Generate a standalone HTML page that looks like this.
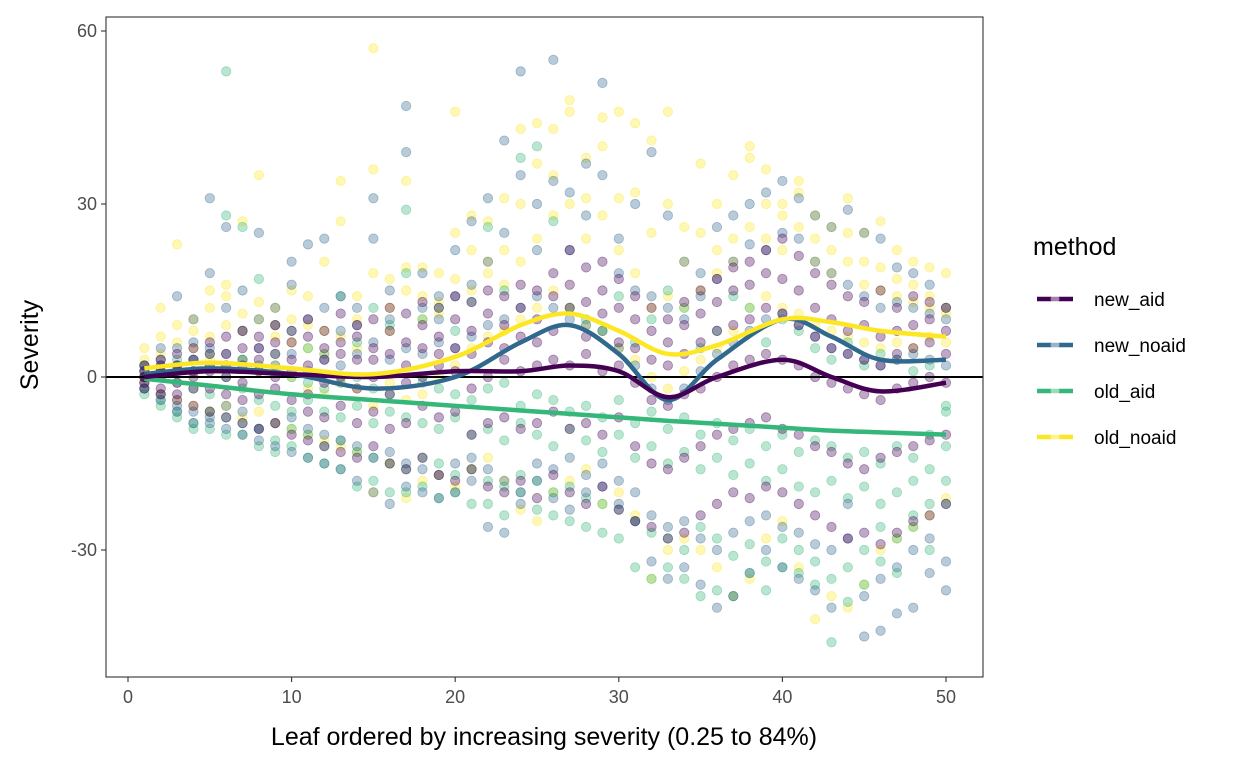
<!DOCTYPE html>
<html><head><meta charset="utf-8"><style>
html,body{margin:0;padding:0;background:#fff;}
svg{display:block;font-family:"Liberation Sans",sans-serif;}
</style></head><body>
<svg id="chart" width="1248" height="768"></svg>
<script>
const seriesNames=["new_aid","new_noaid","old_aid","old_noaid"];
const seriesColors=["#440154","#31688E","#35B779","#FDE725"];
const xTicks=[0,10,20,30,40,50];
const yTicks=[-30,0,30,60];
const newAidPts=[[0,1,-1,2,-2,0],[1,-2,3,-3,0,2],[2,-4,4,-1,1,-3],[3,-5,5,0,-2,1],[4,-6,6,-2,1,2],[2,-7,7,0,4,-3],[5,-8,8,-1,2,-4],[3,-9,7,1,-3,5],[4,-8,9,-2,0,6],[6,-10,8,1,-4,3],[7,-11,10,-3,2,-6],[8,-12,5,-1,3,-7],[6,-13,11,0,-5,4],[9,-14,7,-2,3,-8],[10,-12,5,0,-6,3],[8,-15,12,-3,4,-9],[11,-16,6,-1,2,-8],[9,-14,13,0,-5,5],[12,-17,7,2,-7,4],[10,-18,14,1,-6,5],[13,-16,8,-2,4,-10],[11,-19,15,0,-8,6],[14,-20,9,3,-7,5],[12,-18,16,1,-9,7],[15,-21,10,2,-8,6],[14,-17,18,3,-6,8],[16,-20,12,2,-9,22],[13,-22,19,4,-8,7],[15,-19,11,1,-10,20],[12,-23,17,2,-7,6],[10,-25,14,-1,-12,5],[8,-26,12,-4,-15,3],[6,-28,10,-5,-16,2],[9,-27,13,-3,-14,4],[11,-24,15,-2,-12,6],[13,-22,17,0,-10,8],[15,-20,19,2,-9,9],[16,-21,20,3,-8,10],[18,-19,22,4,-7,12],[17,-20,24,3,-9,11],[15,-22,21,2,-10,9],[12,-24,18,0,-12,7],[10,-26,16,-1,-13,5],[8,-28,14,-2,-15,4],[9,-27,13,-3,-16,3],[7,-29,15,-4,-14,2],[8,-27,12,-2,-13,4],[9,-25,14,-1,-12,5],[10,-24,13,0,-11,6],[8,-22,12,-1,-10,4]];
const newNoaidPts=[[1,-1,2,0,-2],[3,-3,5,-4,1],[5,-5,14,-6,2],[6,-6,10,-8,3],[31,-8,18,-7,5],[26,-9,12,-5,4],[8,-10,15,-6,3],[25,-11,10,-9,5],[12,-12,9,-8,2],[20,-13,16,-7,4],[23,-14,10,-9,1],[24,-15,12,-10,3],[14,-16,8,-11,2],[12,-18,9,-12,4],[31,-20,24,-14,6],[15,-22,10,-13,3],[47,-19,39,-15,5],[18,-20,12,-16,4],[14,-21,10,-17,6],[22,-20,14,-15,5],[27,-18,16,-14,7],[31,-26,20,-16,9],[41,-27,25,-18,10],[53,-22,35,-20,12],[30,-18,22,-15,14],[55,-21,34,-16,12],[32,-23,22,-14,10],[37,-20,28,-17,9],[51,-19,35,-15,8],[24,-22,18,-18,5],[30,-25,15,-20,2],[39,-32,14,-24,-2],[28,-35,12,-26,-4],[20,-33,10,-25,-2],[18,-36,14,-28,1],[26,-40,17,-30,4],[28,-38,20,-27,6],[30,-34,23,-25,8],[32,-30,22,-24,10],[34,-33,25,-26,11],[31,-35,24,-27,9],[28,-37,20,-29,7],[26,-40,18,-30,5],[29,-28,16,-22,4],[25,-45,14,-38,3],[24,-44,12,-35,2],[19,-41,13,-33,3],[18,-40,12,-30,4],[16,-34,11,-28,3],[12,-37,10,-32,2]];
const oldAidPts=[[0,-2,1,-3,2],[1,-4,2,-5,0],[2,-6,3,-7,-1],[3,-8,1,-9,-2],[2,-9,4,-6,-3],[53,-10,28,-7,0],[26,-10,3,-8,-2],[17,-12,2,-9,-4],[4,-13,1,-11,-5],[8,-12,0,-9,-6],[5,-14,-1,-10,-4],[4,-15,-2,-12,-6],[14,-16,-1,-11,-7],[6,-19,0,-13,-5],[12,-18,-2,-14,-8],[9,-20,-3,-15,-6],[29,-20,18,-16,-7],[10,-19,-1,-14,-8],[12,-21,-2,-15,-9],[8,-20,-3,-17,-7],[13,-22,-4,-16,-10],[26,-22,-2,-18,-9],[15,-24,-1,-19,-11],[38,-20,-5,-17,-8],[40,-23,-3,-18,-10],[27,-24,-4,-20,-12],[12,-25,-6,-19,-9],[10,-26,-5,-21,-11],[8,-27,-7,-22,-13],[14,-28,-4,-23,-10],[6,-33,-8,-25,-14],[10,-35,-6,-27,-12],[15,-33,-9,-28,-15],[12,-35,-7,-30,-13],[5,-38,-10,-26,-16],[8,-37,-8,-28,-14],[14,-38,-11,-31,-17],[12,-34,-9,-29,-15],[6,-37,-12,-32,-18],[10,-33,-10,-28,-16],[8,-34,-13,-30,-19],[5,-36,-11,-32,-20],[3,-46,-12,-35,-18],[6,-39,-14,-33,-21],[2,-36,-13,-30,-19],[4,-32,-15,-26,-22],[3,-34,-12,-28,-20],[1,-24,-14,-26,-18],[2,-30,-16,-22,-10],[-5,-22,-12,-18,-6]];
const oldNoaidPts=[[5,2,-1,3,0],[12,4,-3,7,1],[23,6,-4,9,2],[10,5,-5,8,1],[15,7,-6,12,3],[16,9,-5,14,2],[27,8,-7,11,3],[35,10,-6,13,1],[12,7,-8,9,2],[15,6,-9,10,0],[14,5,-10,9,-2],[20,4,-11,8,-3],[34,7,-12,27,-1],[14,5,-13,10,-2],[57,36,-20,18,-5],[17,8,-15,12,-1],[34,15,-21,19,-4],[19,10,-18,14,-3],[18,11,-17,13,0],[46,25,-19,17,2],[22,15,-16,28,5],[27,18,-14,20,7],[31,22,-18,16,8],[43,30,-23,20,10],[44,37,-25,24,12],[43,35,-20,28,15],[48,46,-18,30,12],[38,31,-16,24,9],[45,40,-22,28,8],[46,31,-20,22,5],[44,32,-24,18,3],[41,25,-35,12,0],[46,30,-30,14,-2],[26,20,-28,12,1],[37,25,-30,15,3],[30,22,-33,18,5],[35,24,-38,20,8],[40,38,-35,26,12],[36,30,-28,24,14],[30,28,-25,22,12],[34,32,-33,26,11],[28,24,-42,20,9],[26,22,-38,18,8],[31,25,-40,20,7],[25,20,-36,16,6],[27,19,-30,15,5],[22,17,-28,14,6],[20,16,-26,13,5],[19,14,-24,12,7],[18,12,-21,11,6]];
const smoothX=[1,5,10,15,20,24,27,30,33,36,40,43,46,50];
const newAidSmooth=[0,1,0.5,0,1,1,2,1,-3.5,0,3,0,-2.5,-1];
const newNoaidSmooth=[0.5,1.5,0.5,-2,0,6,9,4,-4,3,10,7,3,3];
const oldAidSmooth=[-0.3,-1.5,-3,-4,-5,-5.8,-6.4,-7,-7.6,-8.1,-8.8,-9.3,-9.6,-10];
const oldNoaidSmooth=[1.5,2.5,1.5,0.5,3.5,9,11,8,4,5.5,10,9.5,8,7];

const svg=document.getElementById('chart');
const NS='http://www.w3.org/2000/svg';
const L=106,R=983,T=17,B=677;
const xs=v=>128+v*(946-128)/50;
const ys=v=>377-v*(377-31)/60;
function mk(tag,attrs,parent){const e=document.createElementNS(NS,tag);for(const k in attrs)e.setAttribute(k,attrs[k]);(parent||svg).appendChild(e);return e;}

const panel=mk('g',{});


mk('rect',{x:L,y:T,width:R-L,height:B-T,fill:'#fff'},panel);

const allPts=[newAidPts,newNoaidPts,oldAidPts,oldNoaidPts];
const allSmooth=[newAidSmooth,newNoaidSmooth,oldAidSmooth,oldNoaidSmooth];
const order=[3,2,1,0];
order.forEach(si=>{
  const g=mk('g',{},panel);
  
  
  allPts[si].forEach((vals,i)=>{
    vals.forEach(v=>{
      const c=mk('circle',{cx:xs(i+1),cy:ys(v),r:4.7,fill:seriesColors[si],'fill-opacity':0.34,stroke:seriesColors[si],'stroke-opacity':0.4,'stroke-width':0.8},g);
      
      
    });
  });
});
const zl=mk('line',{x1:L,x2:R,y1:ys(0),y2:ys(0),stroke:'#000','stroke-width':2},panel);



function curve(xv,yv){
  const p=xv.map((x,i)=>[xs(x),ys(yv[i])]);
  let d='M'+p[0][0]+','+p[0][1];
  for(let i=0;i<p.length-1;i++){
    const p0=p[Math.max(0,i-1)],p1=p[i],p2=p[i+1],p3=p[Math.min(p.length-1,i+2)];
    const c1=[p1[0]+(p2[0]-p0[0])/6,p1[1]+(p2[1]-p0[1])/6];
    const c2=[p2[0]-(p3[0]-p1[0])/6,p2[1]-(p3[1]-p1[1])/6];
    d+=' C'+c1+' '+c2+' '+p2;
  }
  return d;
}
[2,1,0,3].forEach(si=>{
  const pth=mk('path',{d:curve(smoothX,allSmooth[si]),fill:'none',stroke:seriesColors[si],'stroke-width':4.5},panel);
  
  
});
mk('rect',{x:L,y:T,width:R-L,height:B-T,fill:'none',stroke:'#333','stroke-width':1.1},panel);

xTicks.forEach(t=>{
  mk('line',{x1:xs(t),x2:xs(t),y1:B,y2:B+5,stroke:'#333','stroke-width':1.1});
  const tx=mk('text',{x:xs(t),y:B+26,'text-anchor':'middle','font-size':18,fill:'#4d4d4d'});
  tx.textContent=t;
  
  
});
yTicks.forEach(t=>{
  mk('line',{x1:L-5,x2:L,y1:ys(t),y2:ys(t),stroke:'#333','stroke-width':1.1});
  const tx=mk('text',{x:L-9,y:ys(t)+6,'text-anchor':'end','font-size':18,fill:'#4d4d4d'});
  tx.textContent=t;
  
  
});
const xt=mk('text',{x:544,y:745,'text-anchor':'middle','font-size':25,fill:'#000'});
xt.textContent='Leaf ordered by increasing severity (0.25 to 84%)';


const yt=mk('text',{x:0,y:0,'text-anchor':'middle','font-size':25,fill:'#000',transform:'translate(38,345) rotate(-90)'});
yt.textContent='Severity';



const lg=mk('g',{});


const lt=mk('text',{x:1033,y:255,'font-size':25,fill:'#000'},lg);
lt.textContent='method';


seriesNames.forEach((n,i)=>{
  const y=299+i*46;
  const e=mk('g',{},lg);
  
  
  mk('line',{x1:1037,x2:1073,y1:y,y2:y,stroke:seriesColors[i],'stroke-width':4.5},e);
  mk('circle',{cx:1055,cy:y,r:4.4,fill:'#fff','fill-opacity':0.5},e);
  const t=mk('text',{x:1094,y:y+7,'font-size':19,fill:'#000'},e);
  t.textContent=n;
});
</script>
</body></html>
